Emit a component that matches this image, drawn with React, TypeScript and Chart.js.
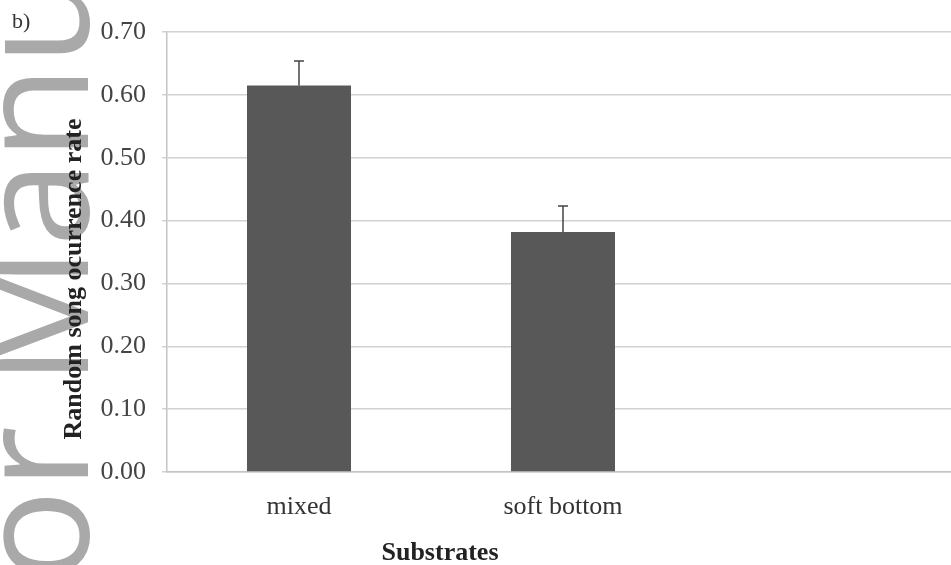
import React, { useEffect, useRef } from "react";
import { Chart, registerables } from "chart.js";

Chart.register(...registerables);

const categories = ["mixed", "soft bottom", ""];
const rates = [0.615, 0.382, null];
const errors = [0.039, 0.041, null];
const yTicks = [0, 0.1, 0.2, 0.3, 0.4, 0.5, 0.6, 0.7];
const yTitle = "Random song ocurrence rate";
const xTitle = "Substrates";
const panelLabel = "b)";
const watermark = "Author Manuscript";

const SERIF = '"Liberation Serif", "Times New Roman", serif';

const watermarkPlugin = {
  id: "watermark",
  beforeDraw(chart: any) {
    const ctx = chart.ctx;
    ctx.save();
    ctx.fillStyle = "#a9a9a9";
    ctx.font = '155px "Open Sans"';
    ctx.textBaseline = "alphabetic";
    ctx.textAlign = "left";
    ctx.translate(88, 386);
    ctx.rotate(-Math.PI / 2);
    const off = ctx.measureText("Author ").width;
    ctx.fillText(watermark, -off, 0);
    ctx.restore();
  },
};

const errorBarPlugin = {
  id: "errorBars",
  afterDatasetsDraw(chart: any) {
    const ctx = chart.ctx;
    const meta = chart.getDatasetMeta(0);
    const yScale = chart.scales.y;
    ctx.save();
    ctx.strokeStyle = "#444444";
    ctx.lineWidth = 1.5;
    meta.data.forEach((bar: any, i: number) => {
      const v = rates[i];
      const e = errors[i];
      if (v == null || e == null) return;
      const x = bar.x;
      const y0 = yScale.getPixelForValue(v);
      const y1 = yScale.getPixelForValue(v + e);
      ctx.beginPath();
      ctx.moveTo(x, y0);
      ctx.lineTo(x, y1);
      ctx.moveTo(x - 5, y1);
      ctx.lineTo(x + 5, y1);
      ctx.stroke();
    });
    ctx.restore();
  },
};

const textPlugin = {
  id: "texts",
  afterDraw(chart: any) {
    const ctx = chart.ctx;
    ctx.save();
    ctx.fillStyle = "#333333";
    ctx.font = `22px ${SERIF}`;
    ctx.textAlign = "left";
    ctx.textBaseline = "alphabetic";
    ctx.fillText(panelLabel, 12, 28);

    ctx.fillStyle = "#222222";
    ctx.font = `bold 26px ${SERIF}`;
    ctx.textAlign = "center";
    ctx.fillText(xTitle, 440, 560);

    ctx.translate(74, 279);
    ctx.rotate(-Math.PI / 2);
    ctx.textBaseline = "middle";
    ctx.fillText(yTitle, 0, 0);
    ctx.restore();
  },
};

export default function App() {
  const ref = useRef<HTMLCanvasElement>(null);
  useEffect(() => {
    if (!ref.current) return;
    const chart = new Chart(ref.current, {
      type: "bar",
      data: {
        labels: categories,
        datasets: [
          {
            data: rates as any,
            backgroundColor: "#585858",
            borderWidth: 0,
            barPercentage: 0.394,
            categoryPercentage: 1,
          },
        ],
      },
      options: {
        animation: false,
        responsive: false,
        devicePixelRatio: 1,
        layout: { padding: { top: 32, right: 1, left: 2, bottom: 0 } },
        plugins: {
          legend: { display: false },
          tooltip: { enabled: false },
        },
        scales: {
          x: {
            type: "category",
            grid: { display: false, drawTicks: false },
            border: { display: true, color: "#c4c4c4", width: 1.5 },
            ticks: {
              color: "#333333",
              font: { family: SERIF, size: 26 },
              padding: 20,
            },
            afterFit: (s: any) => {
              s.height = 93;
            },
          },
          y: {
            min: 0,
            max: 0.7,
            afterBuildTicks: (s: any) => {
              s.ticks = yTicks.map((v) => ({ value: v }));
            },
            grid: { color: "#d2d2d2", lineWidth: 1.5, tickLength: 5 },
            border: { display: true, color: "#c4c4c4", width: 1.5 },
            ticks: {
              color: "#444444",
              font: { family: SERIF, size: 26 },
              padding: 16,
              callback: (v: any) => Number(v).toFixed(2),
            },
            afterFit: (s: any) => {
              s.width = 165;
            },
          },
        },
      },
      plugins: [watermarkPlugin, errorBarPlugin, textPlugin],
    });
    return () => chart.destroy();
  }, []);

  return (
    <div
      style={{
        position: "fixed",
        left: 0,
        top: 0,
        width: 951,
        height: 565,
        overflow: "hidden",
        background: "#ffffff",
      }}
    >
      <canvas ref={ref} width={960} height={565} style={{ display: "block", width: 960, height: 565 }} />
    </div>
  );
}
